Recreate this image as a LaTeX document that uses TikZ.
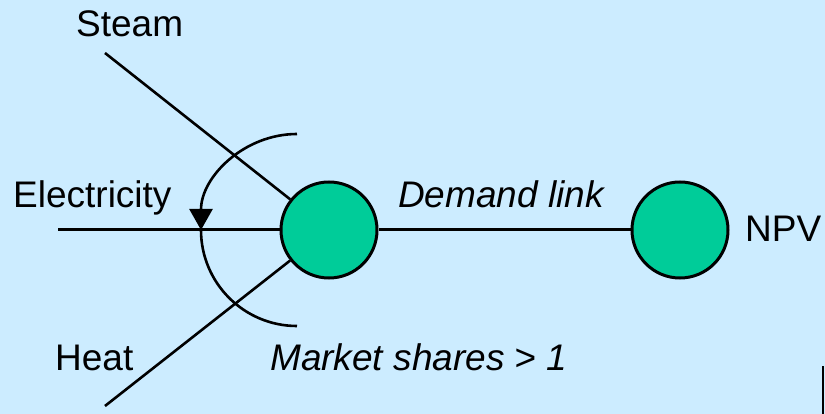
\documentclass[tikz,border=0pt]{standalone}
\usepackage{fontspec}
\setmainfont{Liberation Sans}
\usetikzlibrary{arrows.meta}
\definecolor{bgblue}{RGB}{204,236,255}
\definecolor{nodegreen}{RGB}{0,204,153}
\begin{document}
\begin{tikzpicture}[x=1pt,y=-1pt,
  bubble/.style={circle,draw=black,line width=3pt,fill=nodegreen,minimum size=96pt,inner sep=0pt},
  lbl/.style={anchor=base west,inner sep=0pt,font=\fontsize{37}{42}\selectfont},
  link/.style={line width=2.6pt,black}]
\fill[bgblue] (0,0) rectangle (825,414);
\useasboundingbox (0,0) rectangle (825,414);
\node[bubble] (c1) at (329,230) {};
\node[bubble] (c2) at (680,230) {};
\coordinate (s) at (105,53);
\coordinate (h) at (105,406);
\coordinate (e) at (58,230);
\draw[link] (s) -- (c1);
\draw[link] (h) -- (c1);
\draw[link,line width=3pt] (e) -- (c1);
\draw[link,line width=3pt] (c1) -- (c2);
\draw[line width=2.6pt,-{Triangle[length=21pt,width=23pt]}] (297,134) arc[start angle=270,end angle=180,radius=96];
\draw[line width=2.6pt] (201,230) arc[start angle=180,end angle=90,radius=96];
\draw[line width=2pt] (823,366) -- (823,414);
\node[lbl] (tsteam) at (76,37) {Steam};
\node[lbl] (telec) at (13,208) {Electricity};
\node[lbl] (tdem) at (398,208) {\itshape Demand link};
\node[lbl] (tmkt) at (270,370) {\itshape Market shares > 1};
\node[lbl] (theat) at (55,370) {Heat};
\node[lbl] (tnpv) at (745,242) {NPV};
\end{tikzpicture}
\end{document}
